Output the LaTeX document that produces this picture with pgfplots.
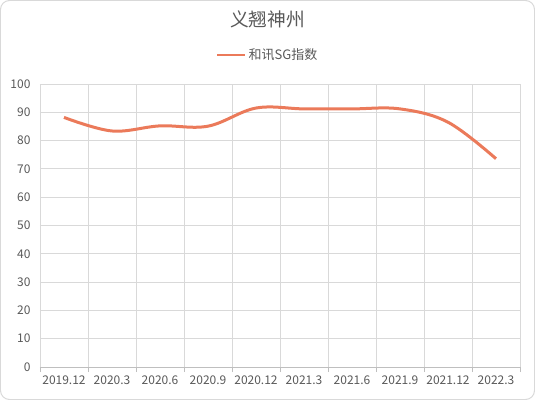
\documentclass[border=0pt]{standalone}
\usepackage{fontspec}
\setmainfont{Noto Sans CJK SC}
\usepackage{pgfplots}
\pgfplotsset{compat=1.18}

\definecolor{lineC}{RGB}{235,122,90}
\definecolor{txtC}{RGB}{89,89,89}
\definecolor{gridC}{RGB}{217,217,217}
\definecolor{axC}{RGB}{191,191,191}

\begin{document}
\begin{tikzpicture}
\begin{axis}[
    scale only axis,
    width=480bp, height=283bp,
    xmin=-0.5, xmax=9.5,
    ymin=0, ymax=100,
    xtick={0,...,9},
    xticklabels={2019.12,2020.3,2020.6,2020.9,2020.12,2021.3,2021.6,2021.9,2021.12,2022.3},
    minor xtick={-0.5,0.5,...,9.5},
    ytick={0,10,...,100},
    xminorgrids, ymajorgrids,
    minor grid style={draw=gridC, line width=0.8bp},
    major grid style={draw=gridC, line width=0.8bp},
    major tick length=0pt,
    minor tick length=5bp,
    xtick align=outside,
    separate axis lines,
    axis x line*=bottom,
    axis y line*=left,
    x axis line style={draw=axC, line width=0.8bp, -},
    y axis line style={draw=none, -},
    minor x tick style={draw=axC, line width=0.8bp},
    ticklabel style={font=\fontsize{12bp}{14bp}\selectfont, text=txtC},
    /pgf/number format/assume math mode=true,
    yticklabel style={xshift=-6bp},
    xticklabel style={yshift=-5bp},
    title={义翘神州},
    title style={at={(rel axis cs:0.474,1)}, anchor=center, yshift=59bp,
        font=\fontsize{18.7bp}{22bp}\selectfont, text=txtC},
    legend style={at={(rel axis cs:0.474,1)}, anchor=center, yshift=29bp,
        draw=none, fill=none, font=\fontsize{13bp}{15bp}\selectfont, text=txtC,
        inner sep=0pt},
    legend image code/.code={\draw[#1, line width=2.8bp] (0bp,0bp) -- (28bp,0bp);},
]
\addplot[color=lineC, line width=3bp, smooth, tension=0.6] coordinates {
    (0,88.2) (1,83.4) (2,85.2) (3,85.1) (4,91.5)
    (5,91.2) (6,91.2) (7,91.2) (8,86.5) (9,73.6)
};
\addlegendentry{和讯SG指数}
\end{axis}
\draw[gridC, line width=1bp, rounded corners=9bp] (-39.5bp,-32.5bp) rectangle (494.5bp,366.5bp);
\end{tikzpicture}
\end{document}
